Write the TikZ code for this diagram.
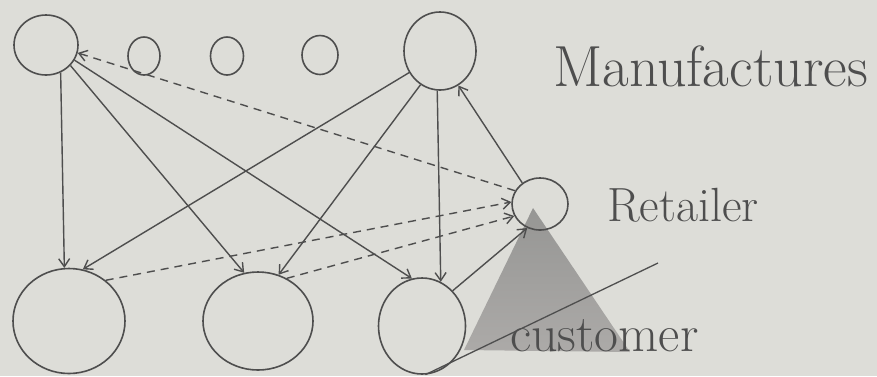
\documentclass[tikz,border=0pt]{standalone}
\usetikzlibrary{shapes.geometric,arrows.meta}
\definecolor{paper}{RGB}{221,221,216}
\definecolor{ink}{RGB}{78,78,78}
\definecolor{shadetop}{RGB}{150,150,148}
\definecolor{shadebot}{RGB}{172,170,168}
\begin{document}
\begin{tikzpicture}[x=1pt,y=-1pt,
  ring/.style={draw=ink, line width=1.6pt, ellipse, inner sep=0pt},
  link/.style={draw=ink, line width=1.4pt, -{Straight Barb[length=8pt,width=11pt]}},
  dlink/.style={link, dash pattern=on 8pt off 6pt},
  lbl/.style={text=ink, inner sep=0pt, anchor=base west}]
\fill[paper] (0,0) rectangle (877,376);
\useasboundingbox (0,0) rectangle (877,376);
% shaded region below the retailer
\shade[top color=shadetop, bottom color=shadebot] (533,208) -- (464,350) -- (630,352) -- cycle;
% manufacturers
\node[ring, minimum width=64pt, minimum height=60pt] (m1) at (46,45) {};
\node[ring, minimum width=32pt, minimum height=38pt] (s1) at (144,56) {};
\node[ring, minimum width=33pt, minimum height=38pt] (s2) at (227,56) {};
\node[ring, minimum width=36pt, minimum height=39pt] (s3) at (320,55) {};
\node[ring, minimum width=72pt, minimum height=78pt] (m2) at (440,51) {};
% retailer
\node[ring, minimum width=56pt, minimum height=52pt] (r) at (540,204) {};
% bottom row
\node[ring, minimum width=112pt, minimum height=105pt] (b1) at (69,321) {};
\node[ring, minimum width=110pt, minimum height=98pt] (b2) at (258,321) {};
\node[ring, minimum width=87pt, minimum height=96pt] (b3) at (422,326) {};
% labels
\node[lbl, font=\fontsize{58}{64}\selectfont] (lm) at (553,86) {Manufactures};
\node[lbl, font=\fontsize{48}{54}\selectfont] (lr) at (607,221) {Retailer};
\node[lbl, font=\fontsize{52}{58}\selectfont] (lc) at (510,351) {customer};
\coordinate (ce) at (658,263);
% solid links from manufacturers
\draw[link] (m1.-62) -- (b1.95);
\draw[link] (m1.-40) -- (b2.106);
\draw[link] (m1.-28) -- (b3.102);
\draw[link] (m2.-145) -- (b1.75);
\draw[link] (m2.-120) -- (b2.66);
\draw[link] (m2.-94) -- (b3.67);
% retailer links
\draw[link] (r.130) -- (m2.-62);
\draw[dlink] (r.152) -- (m1.-14);
\draw[dlink] (b1.48) -- (r.176);
\draw[dlink] (b2.56) -- (r.-155);
\draw[link] (b3.49) -- (r.-118);
% customer line
\draw[draw=ink, line width=1.3pt] (b3.-86) -- (ce);
\end{tikzpicture}
\end{document}
